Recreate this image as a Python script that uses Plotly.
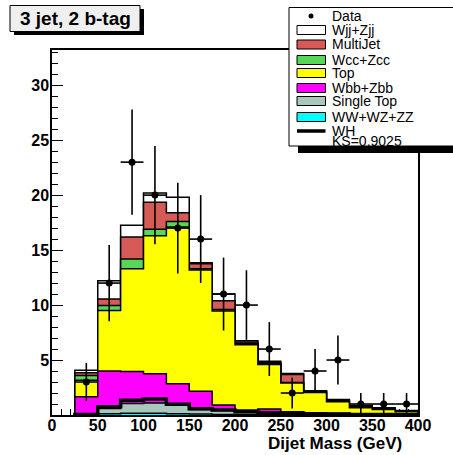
import numpy as np
import plotly.graph_objects as go

# ---------------- data ----------------
bin_edges = [25, 50, 75, 100, 125, 150, 175, 200, 225, 250, 275, 300, 325, 350, 375, 400]
data_counts = [3, 12, 23, 20, 17, 16, 11, 10, 6, 2, 4, 5, 1, 1, 1]

ww_wz_zz = [0.02, 0.12, 0.15, 0.15, 0.12, 0.10, 0.05, 0.04, 0.03, 0.02, 0.02, 0.01, 0.01, 0.01, 0.00]
single_top = [0.03, 0.48, 0.90, 0.95, 0.78, 0.40, 0.35, 0.26, 0.17, 0.13, 0.08, 0.07, 0.04, 0.03, 0.03]
wbb_zbb = [1.60, 3.40, 2.90, 2.65, 1.95, 1.65, 0.50, 0.15, 0.35, 0.15, 0.10, 0.07, 0.05, 0.04, 0.02]
top = [1.50, 5.50, 9.35, 12.55, 14.25, 11.05, 8.55, 5.95, 4.05, 2.60, 1.85, 1.05, 0.55, 0.42, 0.25]
wcc_zcc = [0.45, 0.45, 0.90, 0.60, 0.50, 0.10, 0.15, 0.10, 0.10, 0.05, 0.05, 0.05, 0.05, 0.05, 0.03]
multijet = [0.25, 0.60, 2.00, 2.45, 0.80, 0.45, 0.80, 0.15, 0.10, 0.73, 0.05, 0.10, 0.10, 0.05, 0.04]
wjj_zjj = [0.22, 1.65, 1.05, 0.85, 1.40, 0.10, 0.60, 0.10, 0.10, 0.09, 0.05, 0.05, 0.06, 0.05, 0.03]
wh = [0.05, 0.75, 1.35, 1.45, 0.98, 0.56, 0.45, 0.30, 0.20, 0.15, 0.10, 0.08, 0.05, 0.04, 0.03]

# stack order bottom -> top
stack_names = ["WW+WZ+ZZ", "Single Top", "Wbb+Zbb", "Top", "Wcc+Zcc", "MultiJet", "Wjj+Zjj"]
stack_values = [ww_wz_zz, single_top, wbb_zbb, top, wcc_zcc, multijet, wjj_zjj]
stack_colors = ["#00ffff", "#a8c8bf", "#ff00ff", "#ffff00", "#58d658", "#d65b57", "#ffffff"]

legend_order = ["Data", "Wjj+Zjj", "MultiJet", "Wcc+Zcc", "Top", "Wbb+Zbb", "Single Top", "WW+WZ+ZZ", "WH"]
ks_text = "KS=0.9025"
title_text = "3 jet, 2 b-tag"
x_title = "Dijet Mass (GeV)"
x_ticks = [0, 50, 100, 150, 200, 250, 300, 350, 400]
y_ticks = [5, 10, 15, 20, 25, 30]

# ---------------- geometry ----------------
W, H = 453, 455
ML, MR, MT, MB = 52, 35, 50, 40
PW, PH = W - ML - MR, H - MT - MB


def px2x(px):
    return (px - ML) / PW


def py2y(py):
    return (H - MB - py) / PH


def step_xy(edges, vals):
    x = [edges[0]] + list(edges) + [edges[-1]]
    y = [0.0] + list(vals) + [vals[-1], 0.0]
    return x, y


fig = go.Figure()

cum = np.cumsum(np.array(stack_values, dtype=float), axis=0)
# draw largest cumulative first (ROOT THStack style)
for i in range(len(stack_names) - 1, -1, -1):
    x, y = step_xy(bin_edges, cum[i])
    fig.add_trace(go.Scatter(
        x=x, y=y, mode="lines", line=dict(shape="hv", color="black", width=1.5),
        fill="tozeroy", fillcolor=stack_colors[i], name=stack_names[i],
        showlegend=False, hoverinfo="skip"))

# WH line
x, y = step_xy(bin_edges, wh)
fig.add_trace(go.Scatter(x=x, y=y, mode="lines", line=dict(shape="hv", color="black", width=3.5),
                         name="WH", showlegend=False, hoverinfo="skip"))

# data
edges = np.array(bin_edges, dtype=float)
centers = 0.5 * (edges[:-1] + edges[1:])
half_w = 0.5 * (edges[1:] - edges[:-1])
dc = np.array(data_counts, dtype=float)
fig.add_trace(go.Scatter(
    x=centers, y=dc, mode="markers", name="Data",
    marker=dict(color="black", size=7, symbol="circle"),
    error_y=dict(type="data", array=np.sqrt(dc), color="black", thickness=1.6, width=0),
    error_x=dict(type="data", array=half_w, color="black", thickness=1.6, width=0),
    showlegend=False, cliponaxis=False))

font_bold = dict(family="Liberation Sans, Arial, sans-serif", size=16, color="black", weight="bold")

fig.update_xaxes(range=[0, 400], showline=True, linecolor="black", linewidth=1.5, mirror=True,
                 ticks="inside", ticklen=11, tickwidth=1, tickcolor="black",
                 tickvals=x_ticks, ticktext=[str(v) for v in x_ticks],
                 minor=dict(ticks="inside", ticklen=6, dtick=10, tickcolor="black", tickwidth=1),
                 showgrid=False, zeroline=False, tickfont=font_bold, layer="below traces",
                 ticklabelstandoff=-5)
fig.update_yaxes(range=[0, 33.2], showline=True, linecolor="black", linewidth=1.5, mirror=True,
                 ticks="inside", ticklen=11, tickwidth=1, tickcolor="black",
                 tickvals=y_ticks, ticktext=[str(v) for v in y_ticks],
                 minor=dict(ticks="inside", ticklen=6, dtick=1, tickcolor="black", tickwidth=1),
                 showgrid=False, zeroline=False, tickfont=font_bold, layer="below traces",
                 ticklabelstandoff=-2)

shapes = []
annotations = []

# title box with shadow
shapes.append(dict(type="rect", xref="paper", yref="paper", x0=px2x(14), x1=px2x(144),
                   y0=py2y(35), y1=py2y(9), fillcolor="black", line=dict(width=0), layer="above"))
shapes.append(dict(type="rect", xref="paper", yref="paper", x0=px2x(10), x1=px2x(140),
                   y0=py2y(31.5), y1=py2y(5.5), fillcolor="#efefef",
                   line=dict(color="black", width=1), layer="above"))
annotations.append(dict(xref="paper", yref="paper", x=px2x(75), y=py2y(18.5), text=title_text,
                        showarrow=False, xanchor="center", yanchor="middle",
                        font=dict(family="Liberation Sans, Arial, sans-serif", size=19,
                                  color="black", weight="bold")))

# legend box with shadow
shapes.append(dict(type="rect", xref="paper", yref="paper", x0=px2x(298), x1=px2x(470),
                   y0=py2y(153), y1=py2y(12), fillcolor="black", line=dict(width=0), layer="above"))
shapes.append(dict(type="rect", xref="paper", yref="paper", x0=px2x(289), x1=px2x(465),
                   y0=py2y(146), y1=py2y(7.5), fillcolor="white",
                   line=dict(color="black", width=1), layer="above"))

row_y = [16, 30, 44.5, 60, 73, 88, 101, 117, 131]
color_of = dict(zip(stack_names, stack_colors))
for name, ry in zip(legend_order, row_y):
    if name == "Data":
        shapes.append(dict(type="circle", xref="paper", yref="paper",
                           x0=px2x(308.5), x1=px2x(313.5), y0=py2y(ry + 2.5), y1=py2y(ry - 2.5),
                           fillcolor="black", line=dict(color="black", width=0), layer="above"))
    elif name == "WH":
        shapes.append(dict(type="line", xref="paper", yref="paper",
                           x0=px2x(297), x1=px2x(325.5), y0=py2y(ry), y1=py2y(ry),
                           line=dict(color="black", width=3.5), layer="above"))
    else:
        shapes.append(dict(type="rect", xref="paper", yref="paper",
                           x0=px2x(297), x1=px2x(325.5), y0=py2y(ry + 4.5), y1=py2y(ry - 4.5),
                           fillcolor=color_of[name], line=dict(color="black", width=1), layer="above"))
    annotations.append(dict(xref="paper", yref="paper", x=px2x(330.5), y=py2y(ry), text=name,
                            showarrow=False, xanchor="left", yanchor="middle", borderpad=0,
                            font=dict(family="Liberation Sans, Arial, sans-serif", size=14, color="black")))
annotations.append(dict(xref="paper", yref="paper", x=px2x(330.5), y=py2y(140.5), text=ks_text,
                        showarrow=False, xanchor="left", yanchor="middle", borderpad=0,
                        font=dict(family="Liberation Sans, Arial, sans-serif", size=14, color="black")))

# x axis title (right aligned like ROOT)
annotations.append(dict(xref="paper", yref="paper", x=px2x(404), y=py2y(443.5), text=x_title,
                        showarrow=False, xanchor="right", yanchor="middle",
                        font=dict(family="Liberation Sans, Arial, sans-serif", size=17,
                                  color="black", weight="bold")))

fig.update_layout(width=W, height=H, autosize=False,
                  margin=dict(l=ML, r=MR, t=MT, b=MB, pad=0),
                  paper_bgcolor="white", plot_bgcolor="white",
                  shapes=shapes, annotations=annotations, showlegend=False)

fig.write_html("out.html")
